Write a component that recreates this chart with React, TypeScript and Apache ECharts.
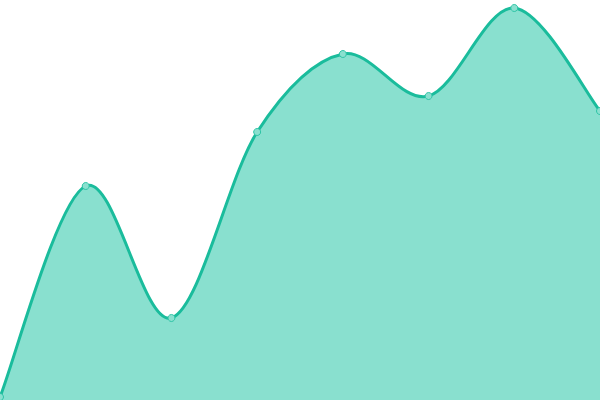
import React, { useEffect, useRef } from "react";
import * as echarts from "echarts";

const categories = ["1", "2", "3", "4", "5", "6", "7", "8"];
const values = [3, 214, 82, 268, 346, 304, 392, 289];

const LINE = "#1abc9c";

function catmullRomPath(pts: number[][]) {
  const n = pts.length;
  let d = `M${pts[0][0]},${pts[0][1]}`;
  for (let i = 0; i < n - 1; i++) {
    const p0 = pts[Math.max(i - 1, 0)];
    const p1 = pts[i];
    const p2 = pts[i + 1];
    const p3 = pts[Math.min(i + 2, n - 1)];
    const c1x = p1[0] + (p2[0] - p0[0]) / 6;
    const c1y = p1[1] + (p2[1] - p0[1]) / 6;
    const c2x = p2[0] - (p3[0] - p1[0]) / 6;
    const c2y = p2[1] - (p3[1] - p1[1]) / 6;
    d += ` C${c1x},${c1y} ${c2x},${c2y} ${p2[0]},${p2[1]}`;
  }
  return d;
}

export default function App() {
  const ref = useRef<HTMLDivElement>(null);
  useEffect(() => {
    const chart = echarts.init(ref.current!, null, { renderer: "svg" });
    chart.setOption({
      animation: false,
      grid: { left: 0, right: 0, top: 0, bottom: 0 },
      xAxis: { type: "category", data: categories, boundaryGap: false, show: false },
      yAxis: { type: "value", min: 0, max: 400, show: false },
      series: [
        {
          type: "custom",
          coordinateSystem: "cartesian2d",
          data: values.map((v, i) => [i, v]),
          encode: { x: 0, y: 1 },
          clip: false,
          renderItem: (params: any, api: any) => {
            if (params.dataIndex !== 0) return null;
            const pts = values.map((v, i) => api.coord([i, v]));
            const d = catmullRomPath(pts);
            const base = api.coord([0, 0])[1];
            const last = pts[pts.length - 1];
            const area = d + ` L${last[0]},${base} L${pts[0][0]},${base} Z`;
            return {
              type: "group",
              children: [
                { type: "path", shape: { pathData: area }, style: { fill: "#89e0cf" } },
                { type: "path", shape: { pathData: d }, style: { fill: "none", stroke: LINE, lineWidth: 3 } },
              ],
            };
          },
          z: 1,
        },
        {
          type: "line",
          data: values,
          symbol: "circle",
          symbolSize: 7,
          itemStyle: { color: "#8ae0cf", borderColor: "#2ec4a6", borderWidth: 1 },
          lineStyle: { opacity: 0, width: 0 },
          z: 2,
        },
      ],
    });
    return () => chart.dispose();
  }, []);
  return (
    <div
      ref={ref}
      style={{ position: "fixed", left: 0, top: 0, width: 600, height: 400 }}
    />
  );
}
